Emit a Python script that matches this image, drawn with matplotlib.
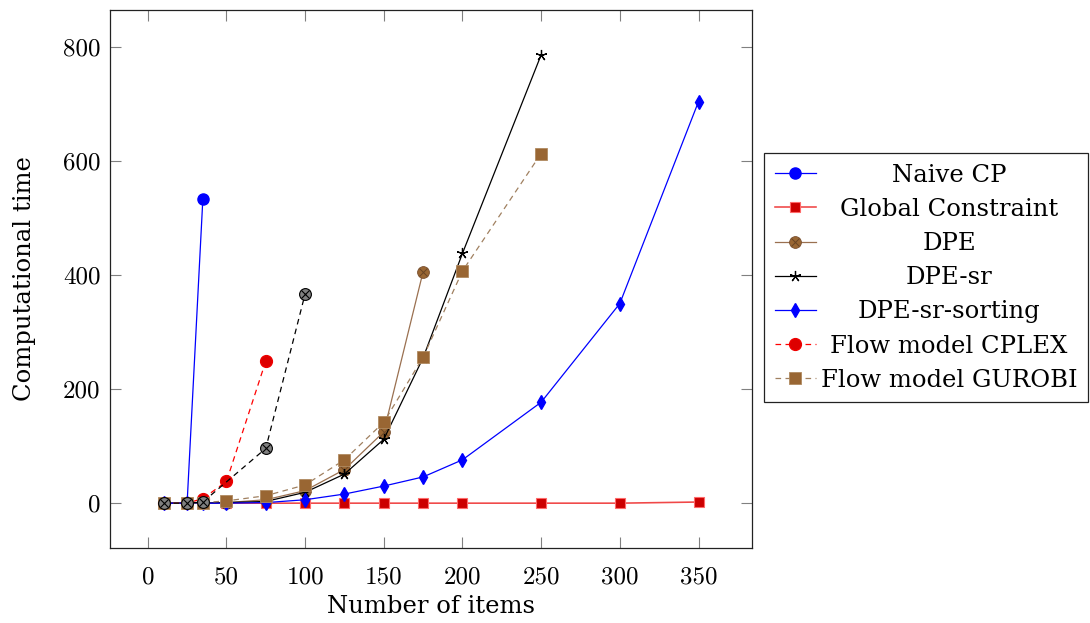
import matplotlib
matplotlib.use("Agg")
import matplotlib.pyplot as plt
from matplotlib.legend_handler import HandlerTuple
from matplotlib.transforms import Affine2D

# ---------------- data ----------------
x_naive = [10, 25, 35]
y_naive = [0, 0, 533]

x_global = [10, 25, 35, 50, 75, 100, 125, 150, 175, 200, 250, 300, 350]
y_global = [0, 0, 0, 0, 0, 0, 0, 0, 0, 0, 0, 0, 2]

x_dpe = [10, 25, 35, 50, 75, 100, 125, 150, 175]
y_dpe = [0, 0, 0, 1, 6, 22, 59, 125, 406]

x_dpesr = [10, 25, 35, 50, 75, 100, 125, 150, 175, 200, 250]
y_dpesr = [0, 0, 0, 1, 3, 19, 51, 112, 255, 438, 786]

x_sort = [10, 25, 35, 50, 75, 100, 125, 150, 175, 200, 250, 300, 350]
y_sort = [0, 0, 0, 0, 1, 6, 16, 30, 46, 76, 177, 350, 704]

x_cplex = [10, 25, 35, 50, 75]
y_cplex = [0, 0, 8, 38, 249]

x_gurobi = [10, 25, 35, 50, 75, 100, 125, 150, 175, 200, 250]
y_gurobi = [0, 0, 1, 4, 13, 32, 76, 142, 256, 407, 613]

x_extra = [10, 25, 35, 75, 100]
y_extra = [0, 0, 2, 96, 367]

labels = ["Naive CP", "Global Constraint", "DPE", "DPE-sr", "DPE-sr-sorting",
          "Flow model CPLEX", "Flow model GUROBI"]
xticks = [0, 50, 100, 150, 200, 250, 300, 350]
yticks = [0, 200, 400, 600, 800]

# ---------------- figure ----------------
W, H = 1090, 623
fig = plt.figure(figsize=(W / 100, H / 100), dpi=100)
ax = fig.add_axes([110 / W, 1 - 548 / H, (752 - 110) / W, (548 - 10) / H])

LW = 0.9
DASH = (0, (4.5, 3.5))
BROWN_M = "#996633"
FS = 17.5

h_naive, = ax.plot(x_naive, y_naive, color="blue", lw=LW, marker="o", ms=8,
                   mfc="blue", mec="blue")
h_global, = ax.plot(x_global, y_global, color="#F04848", lw=LW * 1.3, marker="s",
                    ms=7.5, mfc="#CC0000", mec="#FF6A6A", mew=0.8)
h_dpe_o, = ax.plot(x_dpe, y_dpe, color="#9A7050", lw=LW, marker="o", ms=8.5,
                   mfc=BROWN_M, mec="#7A5030", mew=0.6)
h_dpe_x, = ax.plot(x_dpe, y_dpe, ls="none", marker="x", ms=5.6, mec="#6A4525", mew=0.7)
h_dpesr, = ax.plot(x_dpesr, y_dpesr, color="black", lw=LW, marker=(5, 2, 0), ms=8,
                   mec="black", mew=0.9)
h_sort, = ax.plot(x_sort, y_sort, color="blue", lw=LW, marker="d", ms=7.5,
                  mfc="blue", mec="blue")
h_cplex, = ax.plot(x_cplex, y_cplex, color="red", lw=LW, ls=DASH, marker="o", ms=8.5,
                   mfc="#DD0000", mec="#EE0000")
h_gurobi, = ax.plot(x_gurobi, y_gurobi, color="#A08060", lw=LW, ls=DASH, marker="s",
                    ms=8, mfc=BROWN_M, mec="#B08A60", mew=0.6)
ax.plot(x_extra, y_extra, color="black", lw=LW, ls=DASH, marker="o", ms=8.5,
        mfc="#808080", mec="black", mew=0.8)
ax.plot(x_extra, y_extra, ls="none", marker="x", ms=5.6, mec="black", mew=0.8)

ax.set_xlim(-24, 384)
ax.set_ylim(-78.6, 864.6)
ax.set_xticks(xticks)
ax.set_yticks(yticks)
ax.set_xticklabels([str(v) for v in xticks], fontfamily="cmr10", fontsize=18)
ax.set_yticklabels([str(v) for v in yticks], fontfamily="cmr10", fontsize=18)
ax.tick_params(axis="both", direction="in", length=8, width=0.8, color="0.5",
               top=True, right=True)
ax.tick_params(axis="x", pad=13)
ax.tick_params(axis="y", pad=7)
for s in ax.spines.values():
    s.set_linewidth(0.9)
    s.set_color("#222222")

ax.set_xlabel("Number of items", fontfamily="DejaVu Serif", fontsize=FS, labelpad=5)
ax.set_ylabel("Computational time", fontfamily="DejaVu Serif", fontsize=FS, labelpad=19)

handles = [h_naive, h_global, (h_dpe_o, h_dpe_x), h_dpesr, h_sort, h_cplex, h_gurobi]
leg = fig.legend(handles, labels, loc="upper left",
                 bbox_to_anchor=(764 / W, 1 - 153 / H), bbox_transform=fig.transFigure,
                 borderaxespad=0, prop={"family": "DejaVu Serif", "size": FS},
                 numpoints=1, handlelength=1.7, handletextpad=0.2,
                 labelspacing=0.46, borderpad=0.44, fancybox=False,
                 edgecolor="#222222", framealpha=1,
                 handler_map={tuple: HandlerTuple(ndivide=1)})
leg.get_frame().set_linewidth(0.9)

# centre the legend texts within their column (as in pgfplots)
fig.canvas.draw()
renderer = fig.canvas.get_renderer()
texts = leg.get_texts()
bbs = [t.get_window_extent(renderer) for t in texts]
left = min(b.x0 for b in bbs)
right = max(b.x1 for b in bbs)
colw = right - left
for t, b in zip(texts, bbs):
    dx = (colw - b.width) / 2.0
    t.set_transform(Affine2D().translate(dx, 0) + t.get_transform())

fig.savefig("out.png", dpi=100)
